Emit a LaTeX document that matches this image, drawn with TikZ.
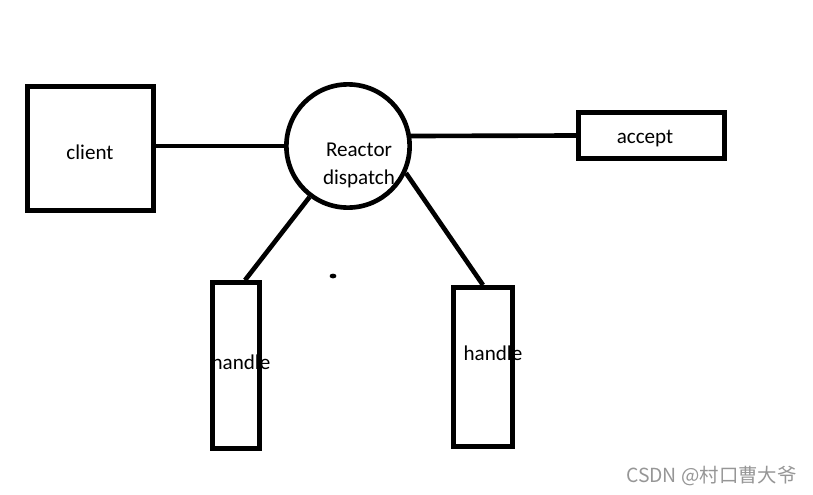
\documentclass[tikz,border=0pt]{standalone}
\usepackage{fontspec}
\setmainfont{Carlito}
\newfontfamily\cjkfont{Noto Sans CJK SC}
\definecolor{rcblack}{RGB}{0,0,0}
\definecolor{rcwmark}{RGB}{150,150,150}
\usetikzlibrary{positioning,calc}

\begin{document}
\begin{tikzpicture}[x=0.025cm,y=-0.025cm,
  rcbox/.style={draw=rcblack,line width=3.3pt,inner sep=0pt},
  rctext/.style={font=\fontsize{15}{20}\selectfont,align=center,inner sep=0pt},
  rcline/.style={line width=3.3pt,rcblack}
]
  \useasboundingbox (0,0) rectangle (813,494);
  % boxes
  \node[rcbox,minimum width=3.15cm,minimum height=3.1cm] (client) at (90.5,148.5) {};
  \node[rcbox,circle,minimum size=3.08cm] (reactor) at (348,146) {};
  \node[rcbox,minimum width=3.65cm,minimum height=1.15cm] (accept) at (651.5,135.5) {};
  \node[rcbox,minimum width=1.18cm,minimum height=4.15cm] (handleA) at (236,365.5) {};
  \node[rcbox,minimum width=1.48cm,minimum height=3.98cm] (handleB) at (483,367) {};
  % labels
  \node[rctext] (clientlbl) at (90,152) {client};
  \node[rctext] (reactorlbl) at (359,165) {Reactor\\dispatch};
  \node[rctext] (acceptlbl) at (645,139) {accept};
  \node[rctext] (handleAlbl) at (241,362) {handle};
  \node[rctext] (handleBlbl) at (493,353) {handle};
  % connectors
  \draw[rcline] (reactor.west -| client.east) -- (reactor.west);
  \draw[rcline] (reactor.9) -- (accept.west);
  \draw[rcline] (reactor.233) -- ([xshift=0.225cm]handleA.north);
  \draw[rcline] (reactor.335) -- (handleB.north);
  \fill[rcblack] (333,276) ellipse [x radius=0.085cm,y radius=0.06cm];
  % watermark
  \node[anchor=east,text=rcwmark,font=\cjkfont\fontsize{13.8}{16}\selectfont,inner sep=0pt] (wmark) at (797,476) {CSDN @村口曹大爷};
\end{tikzpicture}
\end{document}
